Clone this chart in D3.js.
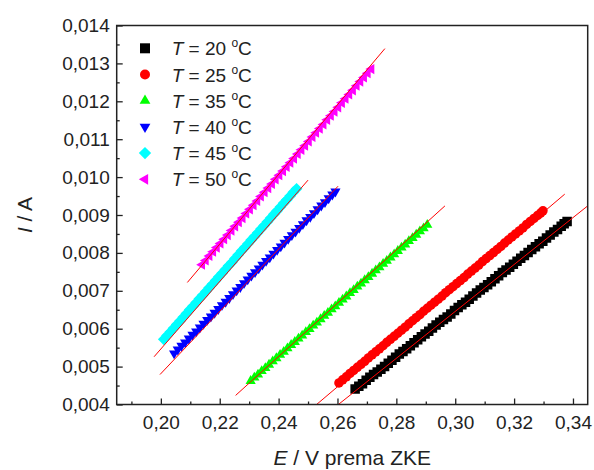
<!DOCTYPE html>
<html><head><meta charset="utf-8">
<script src="https://cdn.jsdelivr.net/npm/d3@7"></script>
<style>body{margin:0;background:#fff;} svg{display:block;}</style>
</head><body>
<script>
// ---- data ----
const xTicks = [0.20,0.22,0.24,0.26,0.28,0.30,0.32,0.34];
const xMinor = [0.19,0.21,0.23,0.25,0.27,0.29,0.31,0.33];
const yTicks = [0.004,0.005,0.006,0.007,0.008,0.009,0.010,0.011,0.012,0.013,0.014];
const yMinor = [0.0045,0.0055,0.0065,0.0075,0.0085,0.0095,0.0105,0.0115,0.0125,0.0135];
const xLabels = ["0,20","0,22","0,24","0,26","0,28","0,30","0,32","0,34"];
const yLabels = ["0,004","0,005","0,006","0,007","0,008","0,009","0,010","0,011","0,012","0,013","0,014"];

const temps = ["20","25","35","40","45","50"];

const e20 = [0.266,0.26725,0.2685,0.26975,0.271,0.27225,0.2735,0.27475,0.276,0.27725,
  0.2785,0.27975,0.281,0.28225,0.2835,0.28475,0.286,0.28725,0.2885,0.28975,
  0.291,0.29225,0.2935,0.29475,0.296,0.29725,0.2985,0.29975,0.301,0.30225,
  0.3035,0.30475,0.306,0.30725,0.3085,0.30975,0.311,0.31225,0.3135,0.31475,
  0.316,0.31725,0.3185,0.31975,0.321,0.32225,0.3235,0.32475,0.326,0.32725,
  0.3285,0.32975,0.331,0.33225,0.3335,0.33475,0.336,0.337,0.338];
const i20 = [0.00441,0.00448,0.00455,0.00464,0.00472,0.00479,0.00486,0.00493,0.00500,0.00509,
  0.00517,0.00525,0.00533,0.00540,0.00547,0.00555,0.00563,0.00571,0.00579,0.00586,
  0.00593,0.00602,0.00610,0.00617,0.00624,0.00631,0.00639,0.00648,0.00656,0.00663,
  0.00670,0.00678,0.00686,0.00694,0.00702,0.00709,0.00716,0.00724,0.00732,0.00740,
  0.00748,0.00755,0.00762,0.00770,0.00778,0.00786,0.00793,0.00801,0.00809,0.00816,
  0.00824,0.00831,0.00839,0.00847,0.00855,0.00862,0.00870,0.00877,0.00883];

const e25 = [0.2605,0.26175,0.263,0.26425,0.2655,0.26675,0.268,0.26925,0.2705,0.27175,
  0.273,0.27425,0.2755,0.27675,0.278,0.27925,0.2805,0.28175,0.283,0.28425,
  0.2855,0.28675,0.288,0.28925,0.2905,0.29175,0.293,0.29425,0.2955,0.29675,
  0.298,0.29925,0.3005,0.30175,0.303,0.30425,0.3055,0.30675,0.308,0.30925,
  0.3105,0.31175,0.313,0.31425,0.3155,0.31675,0.318,0.31925,0.3205,0.32175,
  0.323,0.32425,0.3255,0.32675,0.328,0.3290,0.3298];
const i25 = [0.00457,0.00465,0.00473,0.00482,0.00490,0.00498,0.00506,0.00514,0.00523,0.00531,
  0.00539,0.00547,0.00555,0.00564,0.00572,0.00580,0.00588,0.00596,0.00604,0.00613,
  0.00621,0.00629,0.00637,0.00646,0.00654,0.00662,0.00670,0.00678,0.00686,0.00695,
  0.00703,0.00711,0.00719,0.00727,0.00735,0.00744,0.00752,0.00760,0.00768,0.00777,
  0.00785,0.00793,0.00801,0.00809,0.00817,0.00826,0.00834,0.00842,0.00850,0.00858,
  0.00866,0.00875,0.00883,0.00891,0.00899,0.00905,0.00911];

const e35 = [0.2305,0.23175,0.233,0.23425,0.2355,0.23675,0.238,0.23925,0.2405,0.24175,
  0.243,0.24425,0.2455,0.24675,0.248,0.24925,0.2505,0.25175,0.253,0.25425,
  0.2555,0.25675,0.258,0.25925,0.2605,0.26175,0.263,0.26425,0.2655,0.26675,
  0.268,0.26925,0.2705,0.27175,0.273,0.27425,0.2755,0.27675,0.278,0.27925,
  0.2805,0.28175,0.283,0.28425,0.2855,0.28675,0.288,0.28925,0.2905];
const i35 = [0.00462,0.00471,0.00479,0.00488,0.00496,0.00505,0.00514,0.00522,0.00531,0.00539,
  0.00548,0.00557,0.00565,0.00574,0.00582,0.00591,0.00599,0.00608,0.00616,0.00625,
  0.00634,0.00642,0.00651,0.00659,0.00668,0.00677,0.00685,0.00694,0.00702,0.00711,
  0.00719,0.00728,0.00736,0.00745,0.00754,0.00762,0.00771,0.00779,0.00788,0.00796,
  0.00805,0.00814,0.00822,0.00831,0.00839,0.00848,0.00857,0.00865,0.00874];

const e40 = [0.2045,0.20575,0.207,0.20825,0.2095,0.21075,0.212,0.21325,0.2145,0.21575,
  0.217,0.21825,0.2195,0.22075,0.222,0.22325,0.2245,0.22575,0.227,0.22825,
  0.2295,0.23075,0.232,0.23325,0.2345,0.23575,0.237,0.23825,0.2395,0.24075,
  0.242,0.24325,0.2445,0.24575,0.247,0.24825,0.2495,0.25075,0.252,0.25325,
  0.2545,0.25575,0.257,0.25825,0.2593];
const i40 = [0.00535,0.00545,0.00555,0.00564,0.00574,0.00584,0.00593,0.00603,0.00613,0.00623,
  0.00632,0.00642,0.00652,0.00662,0.00671,0.00681,0.00691,0.00701,0.00710,0.00720,
  0.00730,0.00740,0.00749,0.00759,0.00769,0.00779,0.00788,0.00798,0.00808,0.00817,
  0.00827,0.00837,0.00847,0.00856,0.00866,0.00876,0.00886,0.00895,0.00905,0.00915,
  0.00925,0.00934,0.00944,0.00954,0.00962];

const e45 = [0.201,0.2021,0.2032,0.2043,0.2054,0.2065,0.2076,0.2087,0.2098,0.2109,
  0.212,0.2131,0.2142,0.2153,0.2164,0.2175,0.2186,0.2197,0.2208,0.2219,
  0.223,0.2241,0.2252,0.2263,0.2274,0.2285,0.2296,0.2307,0.2318,0.2329,
  0.234,0.2351,0.2362,0.2373,0.2384,0.2395,0.2406,0.2417,0.2428,0.2439,
  0.245,0.2461];
const i45 = [0.00572,0.00582,0.00591,0.00601,0.00611,0.00620,0.00630,0.00640,0.00650,0.00659,
  0.00669,0.00679,0.00688,0.00698,0.00708,0.00717,0.00727,0.00737,0.00746,0.00756,
  0.00766,0.00775,0.00785,0.00795,0.00805,0.00814,0.00824,0.00834,0.00843,0.00853,
  0.00863,0.00872,0.00882,0.00892,0.00902,0.00911,0.00921,0.00931,0.00940,0.00950,
  0.00960,0.00969];

const e50 = [0.214,0.21525,0.2165,0.21775,0.219,0.22025,0.2215,0.22275,0.224,0.22525,
  0.2265,0.22775,0.229,0.23025,0.2315,0.23275,0.234,0.23525,0.2365,0.23775,
  0.239,0.24025,0.2415,0.24275,0.244,0.24525,0.2465,0.24775,0.249,0.25025,
  0.2515,0.25275,0.254,0.25525,0.2565,0.25775,0.259,0.26025,0.2615,0.26275,
  0.264,0.26525,0.2665,0.26775,0.269,0.27025,0.2715];
const i50 = [0.00769,0.00780,0.00792,0.00803,0.00814,0.00825,0.00836,0.00847,0.00859,0.00870,
  0.00881,0.00892,0.00904,0.00915,0.00926,0.00937,0.00949,0.00960,0.00971,0.00982,
  0.00994,0.01005,0.01016,0.01027,0.01038,0.01049,0.01061,0.01072,0.01083,0.01094,
  0.01106,0.01117,0.01128,0.01139,0.01151,0.01162,0.01173,0.01184,0.01196,0.01207,
  0.01218,0.01229,0.01241,0.01252,0.01263,0.01274,0.01285];

// linear fit lines: [E start, I start, E end, I end]
const fit20 = [0.2603,0.0040,0.3450,0.00924];
const fit25 = [0.2529,0.0040,0.3372,0.00955];
const fit35 = [0.2254,0.00424,0.2965,0.00924];
const fit40 = [0.1997,0.00479,0.2602,0.00976];
const fit45 = [0.1977,0.00526,0.2500,0.00992];
const fit50 = [0.2090,0.00722,0.2761,0.01339];

// ---- drawing ----
const series = [
  {t:temps[0], e:e20, i:i20, fit:fit20, color:"#000000", shape:"square"},
  {t:temps[1], e:e25, i:i25, fit:fit25, color:"#ff0000", shape:"circle"},
  {t:temps[2], e:e35, i:i35, fit:fit35, color:"#00ff00", shape:"up"},
  {t:temps[3], e:e40, i:i40, fit:fit40, color:"#0000ff", shape:"down"},
  {t:temps[4], e:e45, i:i45, fit:fit45, color:"#00ffff", shape:"diamond"},
  {t:temps[5], e:e50, i:i50, fit:fit50, color:"#ff00ff", shape:"left"}
];

const W=594, H=470;
const L=116.7, R=587.7, T=25.5, B=404.5;
const x = d3.scaleLinear().domain([0.185,0.345]).range([L,R]);
const y = d3.scaleLinear().domain([0.004,0.014]).range([B,T]);
const FONT = "'Liberation Sans', Arial, sans-serif";

const svg = d3.select("body").append("svg").attr("width",W).attr("height",H)
  .style("font-family",FONT);

svg.append("defs").append("clipPath").attr("id","clip")
  .append("rect").attr("x",L).attr("y",T).attr("width",R-L).attr("height",B-T);

function markerPath(shape, s){
  const r = s/2;
  const poly = (angles, R0) => "M" + angles.map(a=>{
    const rad = a*Math.PI/180; return [R0*Math.cos(rad), R0*Math.sin(rad)].map(v=>v.toFixed(2)).join(",");
  }).join("L") + "Z";
  switch(shape){
    case "square": return `M${-r},${-r}H${r}V${r}H${-r}Z`;
    case "circle": return `M${r},0A${r},${r} 0 1,1 ${-r},0A${r},${r} 0 1,1 ${r},0Z`;
    case "up": return poly([-90,30,150], s*0.62);
    case "down": return poly([90,210,330], s*0.62);
    case "left": return poly([180,300,60], s*0.62);
    case "diamond": return poly([-90,0,90,180], s*0.62);
  }
}

const plot = svg.append("g").attr("clip-path","url(#clip)");
const MS = 9.5;
series.forEach(s=>{
  const pts = s.e.map((v,k)=>[v, s.i[k]]);
  plot.append("g").selectAll("path").data(pts).join("path")
    .attr("transform",d=>`translate(${x(d[0])},${y(d[1])})`)
    .attr("d", markerPath(s.shape, MS))
    .attr("fill", s.color);
});
series.forEach(s=>{
  plot.append("line")
    .attr("x1",x(s.fit[0])).attr("y1",y(s.fit[1]))
    .attr("x2",x(s.fit[2])).attr("y2",y(s.fit[3]))
    .attr("stroke","#ff0000").attr("stroke-width",1);
});

// axes
const axisColor = "#222";
const gx = svg.append("g").attr("transform",`translate(0,${B})`)
  .call(d3.axisBottom(x).tickValues(xTicks).tickSize(-6).tickPadding(11)
    .tickFormat((d,k)=>xLabels[k]));
const gxm = svg.append("g").attr("transform",`translate(0,${B})`)
  .call(d3.axisBottom(x).tickValues(xMinor).tickSize(-3).tickFormat(""));
const gy = svg.append("g").attr("transform",`translate(${L},0)`)
  .call(d3.axisLeft(y).tickValues(yTicks).tickSize(-6).tickPadding(7)
    .tickFormat((d,k)=>yLabels[k]));
const gym = svg.append("g").attr("transform",`translate(${L},0)`)
  .call(d3.axisLeft(y).tickValues(yMinor).tickSize(-3).tickFormat(""));
[gx,gxm,gy,gym].forEach(g=>{
  g.select(".domain").remove();
  g.selectAll(".tick line").attr("stroke",axisColor).attr("stroke-width",1.3);
  g.selectAll("text").attr("fill","#222").style("font-size","19px").style("font-family",FONT);
});

svg.append("rect").attr("x",L).attr("y",T).attr("width",R-L).attr("height",B-T)
  .attr("fill","none").attr("stroke",axisColor).attr("stroke-width",1.5);

// axis titles
const xt = svg.append("text").attr("x",(L+R)/2).attr("y",465).attr("text-anchor","middle")
  .style("font-size","21px").attr("fill","#222");
xt.append("tspan").style("font-style","italic").text("E");
xt.append("tspan").text(" / V prema ZKE");

const yt = svg.append("text").attr("transform",`translate(32,${(T+B)/2}) rotate(-90)`)
  .attr("text-anchor","middle").style("font-size","21px").attr("fill","#222");
yt.append("tspan").style("font-style","italic").text("I");
yt.append("tspan").text(" / A");

// legend
const leg = svg.append("g");
series.forEach((s,k)=>{
  const cy = 48.3 + k*26.2;
  leg.append("path").attr("transform",`translate(145,${cy})`)
    .attr("d", markerPath(s.shape, 10)).attr("fill", s.color);
  const tx = leg.append("text").attr("x",171.7).attr("y",cy+7).style("font-size","19px").attr("fill","#222");
  tx.append("tspan").style("font-style","italic").text("T");
  tx.append("tspan").text(" = " + s.t + " ");
  tx.append("tspan").attr("dy",-8).style("font-size","12px").text("o");
  tx.append("tspan").attr("dy",8).text("C");
});
</script>
</body></html>
